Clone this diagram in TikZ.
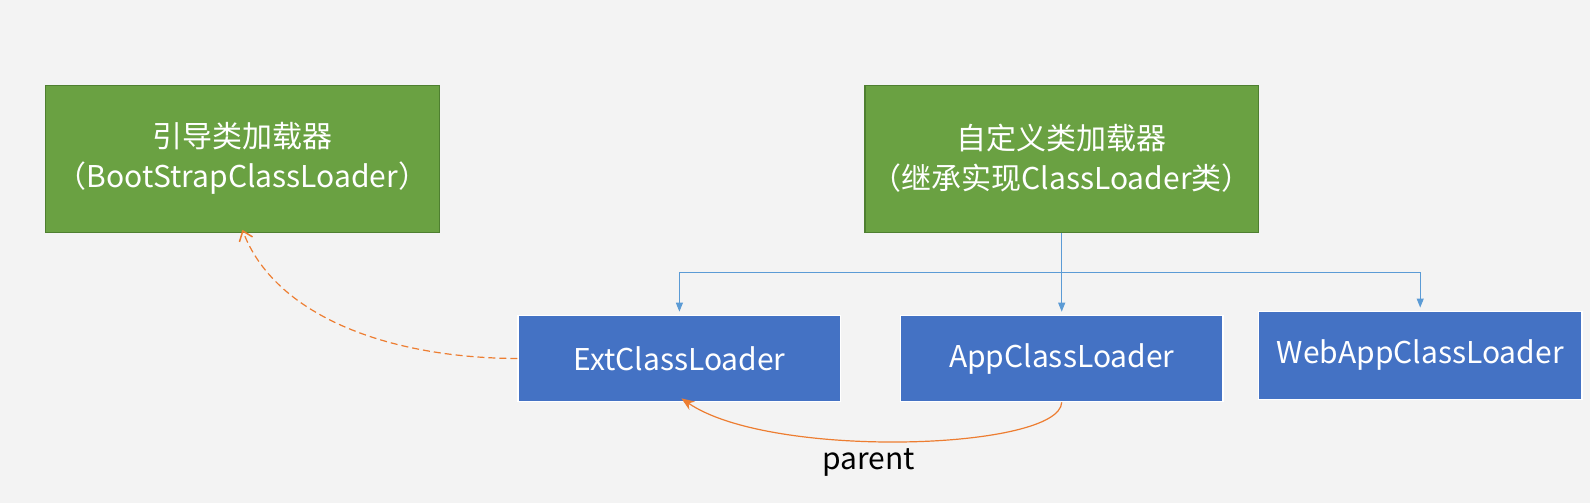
\documentclass[tikz,border=0pt]{standalone}
\usepackage{fontspec}
\setmainfont{Noto Sans CJK SC}
\usetikzlibrary{arrows.meta}
\definecolor{bgcol}{HTML}{F3F3F3}
\definecolor{boxgreen}{HTML}{6AA142}
\definecolor{edgegreen}{HTML}{4E7F30}
\definecolor{boxblue}{HTML}{4472C4}
\definecolor{linkblue}{HTML}{5B9BD5}
\definecolor{linkorange}{HTML}{ED7D31}

\begin{document}
\begin{tikzpicture}[x=1pt,y=-1pt,font=\fontsize{30}{40}\selectfont,
  greenbox/.style={fill=boxgreen,draw=edgegreen,line width=1.2pt,text=white,
    minimum width=393.5pt,minimum height=147pt,align=center,inner sep=0pt},
  bluebox/.style={fill=boxblue,draw=white,line width=1.5pt,text=white,
    minimum width=322.4pt,minimum height=86.2pt,inner sep=0pt},
  tree/.style={draw=linkblue,line width=1pt,-{Triangle[length=9pt,width=7pt]},shorten >=3pt},
  parentlink/.style={draw=linkorange,line width=1.2pt}]
  \fill[bgcol] (0,0) rectangle (1590,503);

  \node[greenbox] (boot) at (242.4,158.7) {引导类加载器\\（BootStrapClassLoader）};
  \node[greenbox] (custom) at (1061.7,158.7) {自定义类加载器\\（继承实现ClassLoader类）};
  \node[bluebox] (ext) at (679.4,358.5) {ExtClassLoader};
  \node[bluebox] (app) at (1061.7,358.5) {AppClassLoader};
  \node[bluebox,minimum width=323.5pt,minimum height=88.2pt] (webapp) at (1420.2,355.4) {WebAppClassLoader};

  \path (custom.south) ++(0,39.6) coordinate (bus);
  \draw[linkblue,line width=1pt] (custom.south) -- (bus);
  \foreach \t in {ext,app,webapp}
    \draw[tree] (bus) -| (\t.north);

  \draw[parentlink,dash pattern=on 7pt off 4pt,-{Straight Barb[length=9pt,width=14pt,line width=1.5pt]}]
    (ext.west) .. controls (385,358) and (274,314) .. ([yshift=3pt]boot.south);
  \draw[parentlink,-{Stealth[length=13pt,width=10pt]}]
    (app.south) .. controls (1060,450) and (771,460) .. ([xshift=2pt,yshift=4pt]ext.south)
    node[pos=0.57,below=4pt,text=black] {parent};

  \pgfresetboundingbox
  \useasboundingbox (0,0) rectangle (1590,503);
\end{tikzpicture}
\end{document}
